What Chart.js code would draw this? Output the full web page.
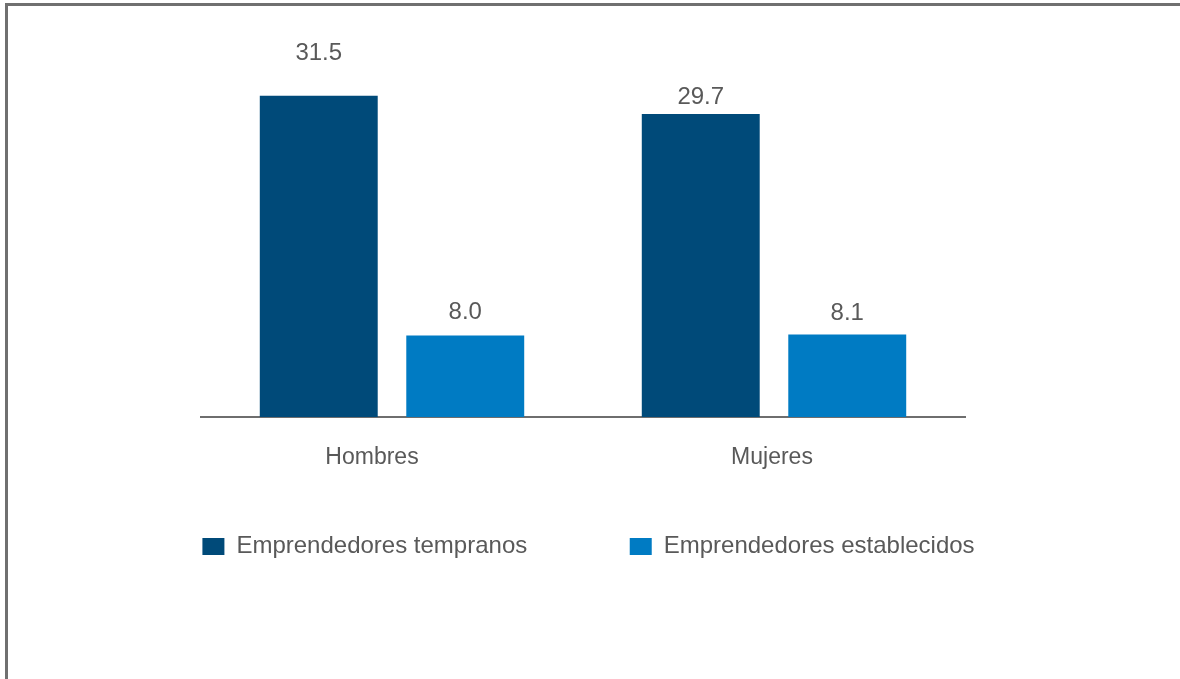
<!DOCTYPE html>
<html>
<head>
  <meta charset="utf-8">
  <title>Emprendedores por sexo</title>
  <script src="https://cdn.jsdelivr.net/npm/chart.js"></script>
  <style>
    html, body { margin: 0; padding: 0; background: #fff; overflow: hidden; }
    #frame {
      position: absolute; left: 5px; top: 3px; width: 1300px; height: 800px;
      border-left: 3px solid #707070; border-top: 3px solid #707070;
    }
    #wrap { position: absolute; left: 0; top: 0; width: 1180px; height: 679px; }
  </style>
</head>
<body>
<div id="frame"></div>
<div id="wrap"><canvas id="salesChart" width="1180" height="679"></canvas></div>
<script>
  // datos
  const categorias = ['Hombres', 'Mujeres'];
  const tempranos = [31.5, 29.7];
  const establecidos = [8.0, 8.1];
  const nombresSeries = ['Emprendedores tempranos', 'Emprendedores establecidos'];

  const FONT = '"Liberation Sans", Arial, sans-serif';
  const GRIS = '#595959';

  // etiquetas de valor sobre cada barra
  const etiquetas = {
    id: 'etiquetas',
    afterDatasetsDraw(chart, args, opts) {
      const ctx = chart.ctx;
      ctx.save();
      ctx.font = '24px ' + FONT;
      ctx.fillStyle = GRIS;
      ctx.textAlign = 'center';
      ctx.textBaseline = 'middle';
      chart.data.datasets.forEach((ds, i) => {
        chart.getDatasetMeta(i).data.forEach((bar, j) => {
          const lift = opts.lift[i][j];
          ctx.fillText(ds.data[j].toFixed(1), bar.x, bar.y - lift);
        });
      });
      ctx.restore();
    }
  };

  // nombres de categoría bajo el eje x (el eje es bajo para dejar sitio a la leyenda)
  const categoriasEje = {
    id: 'categoriasEje',
    afterDraw(chart, args, opts) {
      const ctx = chart.ctx;
      const x = chart.scales.x;
      ctx.save();
      ctx.font = '23px ' + FONT;
      ctx.fillStyle = GRIS;
      ctx.textAlign = 'center';
      ctx.textBaseline = 'middle';
      chart.data.labels.forEach((lab, i) => {
        ctx.fillText(lab, x.getPixelForValue(i) + opts.dx[i], chart.chartArea.bottom + opts.gap);
      });
      ctx.restore();
    }
  };

  const ctx = document.getElementById('salesChart').getContext('2d');
  new Chart(ctx, {
    type: 'bar',
    data: {
      labels: categorias,
      datasets: [{
        label: nombresSeries[0],
        data: tempranos,
        backgroundColor: '#004a79',
        categoryPercentage: 0.767,
        barPercentage: 0.805
      }, {
        label: nombresSeries[1],
        data: establecidos,
        backgroundColor: '#007bc3',
        categoryPercentage: 0.767,
        barPercentage: 0.805
      }]
    },
    plugins: [etiquetas, categoriasEje],
    options: {
      responsive: false,
      animation: false,
      layout: { padding: { top: 9, left: 1, right: 4, bottom: 110.5 } },
      scales: {
        x: {
          grid: { display: false, drawTicks: false },
          border: { display: true, color: '#6e6e6e', width: 2 },
          ticks: { display: false },
          afterFit(scale) { scale.height = 15; }
        },
        y: {
          min: 0, max: 40,
          grid: { display: false, drawTicks: false },
          border: { display: false },
          ticks: { display: false },
          afterFit(scale) { scale.width = 200; }
        },
        yr: {
          type: 'linear', position: 'right',
          grid: { display: false, drawTicks: false },
          border: { display: false },
          ticks: { display: false },
          afterFit(scale) { scale.width = 211; }
        }
      },
      plugins: {
        tooltip: { enabled: false },
        legend: {
          position: 'bottom',
          labels: {
            color: GRIS,
            font: { family: FONT, size: 24 },
            boxWidth: 22,
            boxHeight: 17,
            padding: 102.5
          }
        },
        etiquetas: { lift: [[42.7, 16.4], [23.5, 21.5]] },
        categoriasEje: { gap: 40.5, dx: [-20, -2] }
      }
    }
  });
</script>
</body>
</html>
